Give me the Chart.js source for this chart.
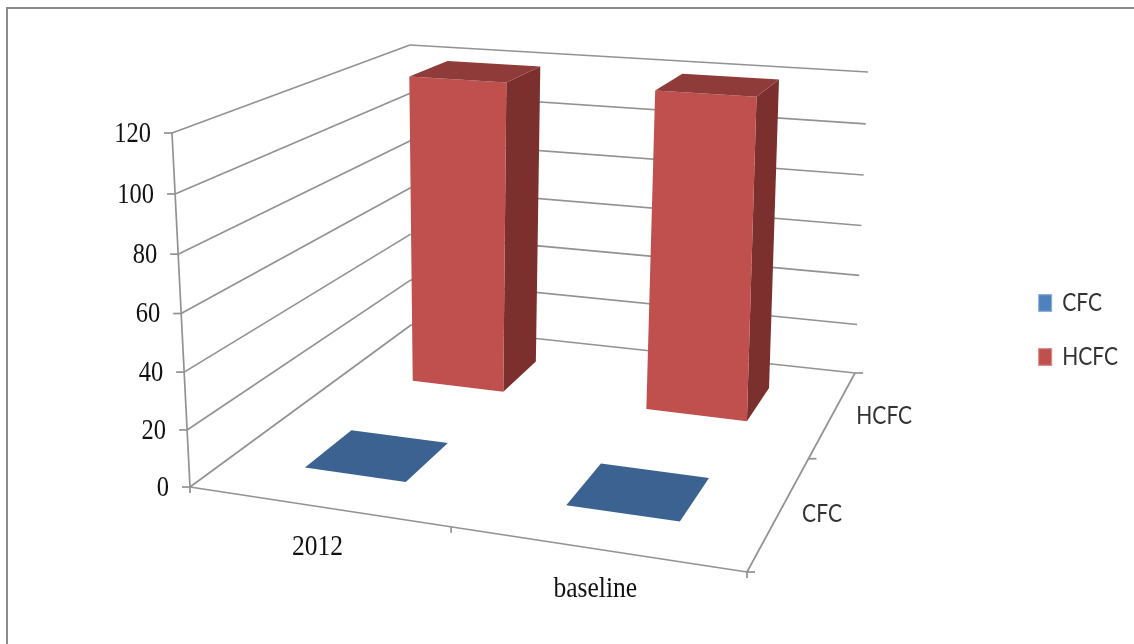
<!DOCTYPE html>
<html>
<head>
<meta charset="utf-8">
<style>
  html, body { margin: 0; background: #fff; }
  #wrap { width: 1134px; height: 644px; }
</style>
<script src="https://cdn.jsdelivr.net/npm/chart.js@4/dist/chart.umd.min.js"></script>
</head>
<body>
<div id="wrap"><canvas id="canvas" width="1134" height="644"></canvas></div>
<script>
const categories = ['2012', 'baseline'];
const seriesNames = ['CFC', 'HCFC'];
const cfcValues = [0, 0];
const hcfcValues = [119.5, 120];
const yTicks = [0, 20, 40, 60, 80, 100, 120];

const frontColors = ['#4f81bd', '#c0504d'];
const sideColors = ['#2f4d71', '#7b302e'];
const topColors = ['#3b6290', '#8e3b39'];
const gridColor = '#929292';
const serif = '"Liberation Serif", serif';
const sans = 'Lato, "Liberation Sans", sans-serif';
const legendStretch = 1.2;

// corners of the floor and the ceiling of the 3d box, u along categories, v into depth
const floorMap = quadMap([190, 487], [747, 572], [855, 373], [411, 325]);
const ceilMap = quadMap([172, 133], [759, 173], [868, 72], [410, 45]);
const heightFalloff = 0.039;

function quadMap(p0, p1, p2, p3) {
  const dx1 = p1[0] - p2[0], dx2 = p3[0] - p2[0], sx = p0[0] - p1[0] + p2[0] - p3[0];
  const dy1 = p1[1] - p2[1], dy2 = p3[1] - p2[1], sy = p0[1] - p1[1] + p2[1] - p3[1];
  const den = dx1 * dy2 - dx2 * dy1;
  const g = (sx * dy2 - dx2 * sy) / den;
  const h = (dx1 * sy - sx * dy1) / den;
  const a = p1[0] - p0[0] + g * p1[0], b = p3[0] - p0[0] + h * p3[0];
  const d = p1[1] - p0[1] + g * p1[1], e = p3[1] - p0[1] + h * p3[1];
  return (u, v) => {
    const w = g * u + h * v + 1;
    return [(a * u + b * v + p0[0]) / w, (d * u + e * v + p0[1]) / w];
  };
}

// u, v in 0..1 and t = share of the value axis
function project(u, v, t) {
  const f = floorMap(u, v), c = ceilMap(u, v);
  const s = t * (1 - heightFalloff) / (1 - heightFalloff * t);
  return [f[0] + (c[0] - f[0]) * s, f[1] + (c[1] - f[1]) * s];
}

// box corners lean a little less than the walls do
function projectBox(u, v, t) {
  const p = project(u, v, t);
  return [p[0] + 1.5 - 4 * t, p[1]];
}

function poly(ctx, pts, fill) {
  ctx.beginPath();
  pts.forEach((p, i) => i ? ctx.lineTo(p[0], p[1]) : ctx.moveTo(p[0], p[1]));
  ctx.closePath();
  ctx.fillStyle = fill;
  ctx.fill();
}

function line(ctx, a, b) {
  ctx.beginPath();
  ctx.moveTo(a[0], a[1]);
  ctx.lineTo(b[0], b[1]);
  ctx.lineWidth = 1.7;
  ctx.strokeStyle = gridColor;
  ctx.stroke();
}

// tall text, the axis fonts are stretched a bit vertically
function label(ctx, text, x, y, font, color, align, stretch) {
  ctx.save();
  ctx.translate(x, y);
  ctx.scale(1, stretch);
  ctx.font = font;
  ctx.fillStyle = color;
  ctx.textAlign = align;
  ctx.textBaseline = 'middle';
  ctx.fillText(text, 0, 0);
  ctx.restore();
}

const box3d = {
  id: 'box3d',
  // legend text gets the same vertical stretch as the series labels
  afterInit(chart) {
    const legend = chart.legend;
    const drawLegend = legend.draw.bind(legend);
    legend.draw = () => {
      const cy = legend.top + legend.height / 2;
      chart.ctx.save();
      chart.ctx.translate(0, cy);
      chart.ctx.scale(1, legendStretch);
      chart.ctx.translate(0, -cy);
      drawLegend();
      chart.ctx.restore();
    };
  },
  beforeDraw(chart) {
    const ctx = chart.ctx;
    ctx.save();
    ctx.fillStyle = '#fff';
    ctx.fillRect(0, 0, chart.width, chart.height);
    ctx.strokeStyle = '#8a8a8a';
    ctx.lineWidth = 2;
    ctx.beginPath();
    ctx.moveTo(7, chart.height);
    ctx.lineTo(7, 8);
    ctx.lineTo(chart.width, 8);
    ctx.stroke();
    ctx.restore();
  },
  // the flat rectangles of the bar elements are replaced by boxes
  beforeDatasetsDraw(chart) {
    const ctx = chart.ctx, xs = chart.scales.x, ys = chart.scales.y;
    ctx.save();

    ys.ticks.forEach(tick => {
      const t = (ys.bottom - ys.getPixelForValue(tick.value)) / ys.height;
      const front = project(0, 0, t), back = project(0, 1, t), right = project(1, 1, t);
      line(ctx, front, back);
      line(ctx, back, right);
      line(ctx, [front[0] - 8, front[1]], front);
      label(ctx, String(tick.value), front[0] - 21, front[1] + 1, '24.5px ' + serif, '#111', 'right', 1.2);
    });
    line(ctx, project(0, 0, 0), project(0, 0, 1));
    line(ctx, project(0, 0, 0), project(1, 0, 0));
    line(ctx, project(1, 0, 0), project(1, 1, 0));

    // category and series tick marks on the floor edges
    [0, 0.5, 1].forEach(u => {
      const p = project(u, 0, 0);
      line(ctx, p, [p[0], p[1] + 6]);
    });
    [0, 0.5, 1].forEach(v => {
      const p = project(1, v, 0);
      line(ctx, p, [p[0] + 8, p[1]]);
    });

    categories.forEach((name, i) => {
      const p = project((xs.getPixelForValue(i) - xs.left) / xs.width, 0, 0);
      label(ctx, name, p[0] + 1, p[1] + 41, '25.5px ' + serif, '#111', 'center', 1.15);
    });
    seriesNames.forEach((name, i) => {
      const v = (i + 0.5) / seriesNames.length;
      const p = project(1, v, 0);
      label(ctx, name, p[0] + 37.5 + 18 * v, p[1] + 3, '21px ' + sans, '#333', 'center', 1.2);
    });

    // back row first so the nearer boxes stay on top
    for (let s = chart.data.datasets.length - 1; s >= 0; s--) {
      chart.getDatasetMeta(s).data.forEach(bar => {
        const u0 = (bar.x - bar.width / 2 - xs.left) / xs.width;
        const u1 = (bar.x + bar.width / 2 - xs.left) / xs.width;
        const depth = 0.4 / seriesNames.length;
        const v0 = (s + 0.5) / seriesNames.length - depth / 2;
        const v1 = v0 + depth;
        const t = (ys.bottom - bar.y) / ys.height;
        if (t > 0) {
          poly(ctx, [projectBox(u1, v0, 0), projectBox(u1, v1, 0), projectBox(u1, v1, t), projectBox(u1, v0, t)], sideColors[s]);
          poly(ctx, [projectBox(u0, v0, 0), projectBox(u1, v0, 0), projectBox(u1, v0, t), projectBox(u0, v0, t)], frontColors[s]);
        }
        poly(ctx, [projectBox(u0, v0, t), projectBox(u1, v0, t), projectBox(u1, v1, t), projectBox(u0, v1, t)], topColors[s]);
      });
    }
    ctx.restore();
    return false;
  }
};

new Chart(document.getElementById('canvas'), {
  type: 'bar',
  data: {
    labels: categories,
    datasets: [
      { label: seriesNames[0], data: cfcValues, backgroundColor: frontColors[0], borderColor: '#8db0d8', borderWidth: 1 },
      { label: seriesNames[1], data: hcfcValues, backgroundColor: frontColors[1], borderColor: '#d98c8a', borderWidth: 1 }
    ]
  },
  options: {
    responsive: false,
    animation: false,
    grouped: false,
    barPercentage: 0.4,
    categoryPercentage: 1,
    layout: { padding: { top: 16, right: 6 } },
    scales: {
      x: { display: false },
      y: { display: false, min: 0, max: 120, afterBuildTicks: axis => { axis.ticks = yTicks.map(value => ({ value })); } }
    },
    plugins: {
      tooltip: { enabled: false },
      legend: {
        position: 'right',
        labels: { boxWidth: 13, boxHeight: 14, padding: 24, color: '#333', font: { family: sans, size: 21 } }
      }
    }
  },
  plugins: [box3d]
});
</script>
</body>
</html>
